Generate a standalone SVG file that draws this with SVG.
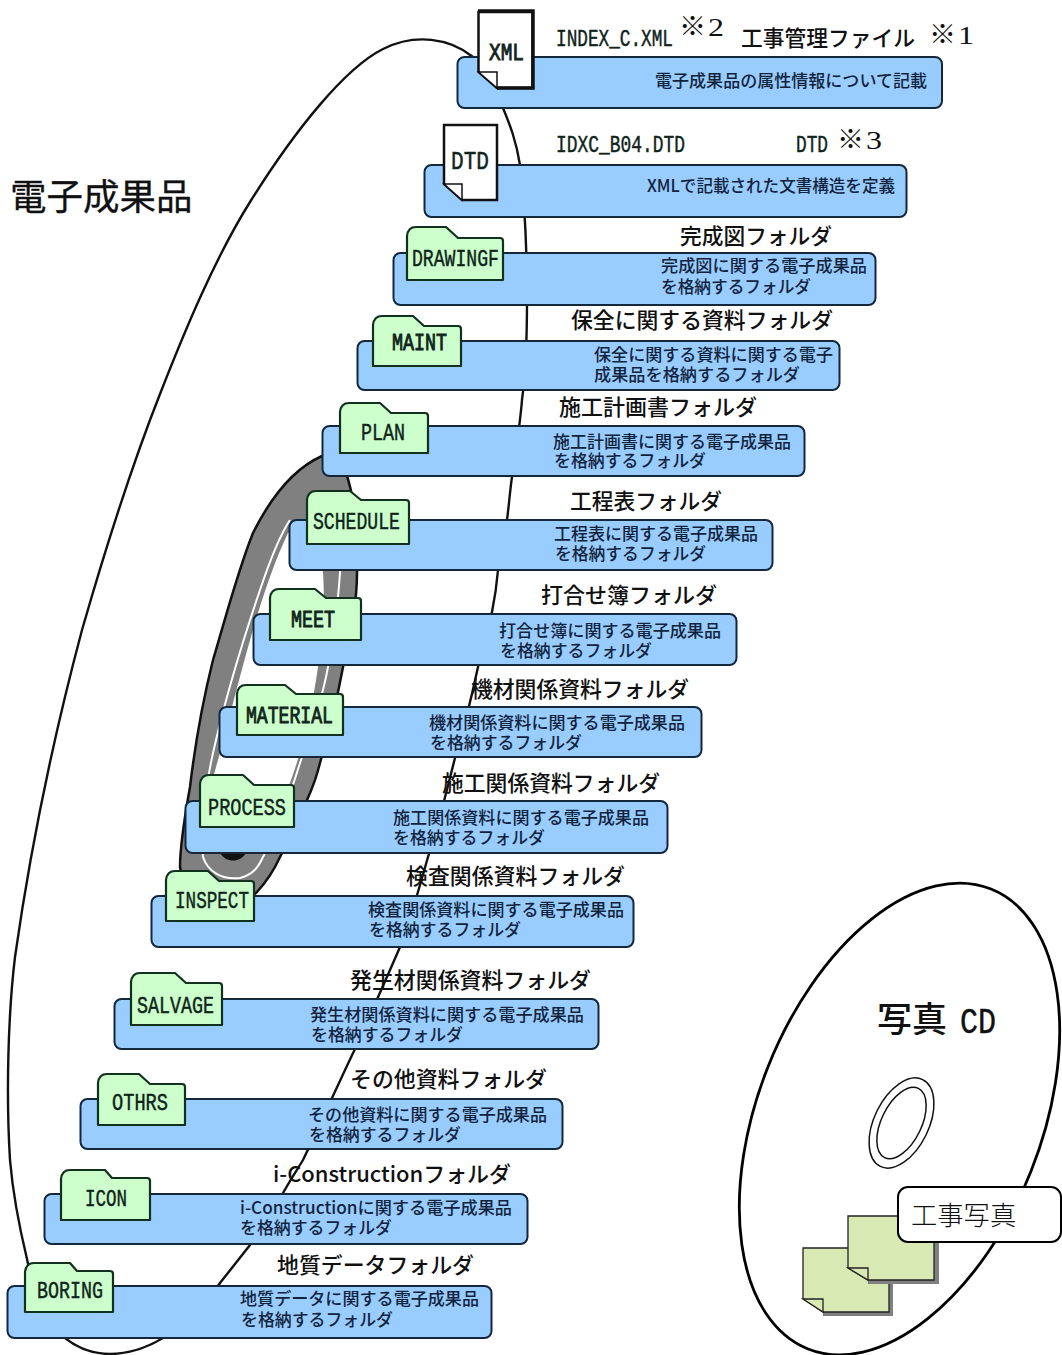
<svg xmlns="http://www.w3.org/2000/svg" width="1062" height="1355" viewBox="0 0 1062 1355">
<style>
text{font-family:"Noto Sans CJK JP","Noto Sans CJK SC",sans-serif;fill:#111}
.bar{fill:#99ccff;stroke:#14283c;stroke-width:2}
.folder{fill:#ccffcc;stroke:#12301e;stroke-width:2.2;stroke-linejoin:round}
.file{fill:#fff;stroke:#111;stroke-width:2.5}
.d{font-size:17px;font-weight:500;fill:#12243c}
.t{font-size:22px;font-weight:500}
.m{font-family:"Liberation Mono","DejaVu Sans Mono",monospace;fill:#10241a;stroke:#10241a;stroke-width:.45}
.b{stroke-width:.9}
.f{font-size:23px}
.s{font-family:"Liberation Serif",serif;font-size:26px}
.c{fill:none;stroke:#111;stroke-width:2.4}
.doc{fill:#d8e9b3;stroke:#222;stroke-width:1.3}
.sh{fill:#808080}
</style>
<rect width="1062" height="1355" fill="#fff"/>
<g id="connectors">
<path class="c" d="M473,57 C450,38 415,33 383,49 C345,68 295,130 250,202 C215,258 185,330 160,394 C130,470 105,550 82,630 C58,720 33,830 15,957 C8,1015 6,1095 10,1160 C13,1195 20,1230 27,1259 C35,1300 50,1330 65,1338 C80,1350 95,1354 110,1354 C130,1354 148,1347 163,1338 C190,1320 205,1305 220,1283 L250,1245 C262,1225 272,1212 283,1193 C292,1177 297,1170 303,1160 C320,1125 340,1080 355,1049 C370,1015 388,975 400,947 C412,915 420,885 428,857 C440,820 448,785 455,758 C465,725 472,695 478,667 C484,645 489,628 492,612 C495,597 497,582 498,570 C501,553 504,537 507,520 C509,505 510,490 512,477 C516,450 520,425 522,400 C526,370 527,340 527,300 C527,255 525,205 520,165 C516,140 510,125 503,108"/>
</g>
<g id="inner-disc">
<path fill="#808080" stroke="#111" stroke-width="2.5" d="M322,456 C295,468 272,495 253,533 C238,570 225,620 213,660 C203,700 195,745 190,787 C185,815 180,845 180,867 C183,895 235,912 257,892 C268,880 275,868 280,857 C290,838 298,820 307,800 C313,787 317,775 320,763 C328,735 337,700 343,667 C350,635 357,605 357,573 C358,540 356,500 345,470 Z"/>
<path fill="#fff" d="M288,533 C275,560 262,598 252,633 C240,675 230,715 220,753 C212,780 206,805 203,830 L265,830 C275,815 283,798 290,783 C302,750 312,710 318,667 C323,635 325,600 323,573 C322,560 320,545 318,533 Z"/>
<path fill="none" stroke="#fff" stroke-width="2" d="M290,520 C280,535 270,560 260,590 C243,640 226,695 213,753 C205,790 200,825 203,857 C208,872 222,880 240,878 C252,875 258,868 263,857 C275,835 290,795 300,763 C312,730 322,700 328,667 C334,640 338,600 340,573 L340,530"/>
<path fill="#111" d="M220,853 H246 C240,863 226,863 220,853 Z"/>
</g>
<g id="index-xml">
<rect class="bar" x="457.500" y="57" width="484.500" height="51" rx="7"/>
<path class="file" d="M478.500,12 H532.500 V88 H497 L478.500,72 Z"/>
<path fill="none" stroke="#111" stroke-width="3.500" d="M478,11 H533 V88 H497"/>
<path fill="#fff" stroke="#111" stroke-width="1.500" d="M478.500,72 H497 V88 Z"/>
<text class="m b" x="489" y="60" font-size="24" textLength="35" lengthAdjust="spacingAndGlyphs">XML</text>
<text class="m" x="556" y="46" font-size="23" textLength="117" lengthAdjust="spacingAndGlyphs">INDEX_C.XML</text>
<text x="679" y="36" font-size="27">※<tspan class="s" dx="2" textLength="16" lengthAdjust="spacingAndGlyphs">2</tspan></text>
<text class="t" x="741" y="46" textLength="174" lengthAdjust="spacingAndGlyphs">工事管理ファイル</text>
<text x="929" y="44" font-size="27">※<tspan class="s" dx="2" textLength="16" lengthAdjust="spacingAndGlyphs">1</tspan></text>
<text class="d" x="655" y="87" textLength="272" lengthAdjust="spacingAndGlyphs">電子成果品の属性情報について記載</text>
</g>
<g id="idxc-dtd">
<rect class="bar" x="424.500" y="165" width="482" height="52" rx="7"/>
<path class="file" d="M444,125 H497 V200 H462 L444,184 Z"/>
<path fill="#fff" stroke="#111" stroke-width="1.500" d="M444,184 H462 V200 Z"/>
<text class="m" x="451" y="169" font-size="25" textLength="38" lengthAdjust="spacingAndGlyphs">DTD</text>
<text class="m" x="556" y="152" font-size="23" textLength="129" lengthAdjust="spacingAndGlyphs">IDXC_B04.DTD</text>
<text class="m" x="796" y="152" font-size="23" textLength="32" lengthAdjust="spacingAndGlyphs">DTD</text>
<text x="837" y="149" font-size="27">※<tspan class="s" dx="2" textLength="16" lengthAdjust="spacingAndGlyphs">3</tspan></text>
<text class="d" x="647" y="192" textLength="248" lengthAdjust="spacingAndGlyphs">XMLで記載された文書構造を定義</text>
</g>
<g id="drawingf">
<rect class="bar" x="393.500" y="253" width="482" height="52" rx="7"/>
<path class="folder" d="M407,280 V236 Q408,227 416,227 H446 L458,238 H500 Q503,238 503,241 V280 Z"/>
<text class="m f" x="412" y="266" textLength="87" lengthAdjust="spacingAndGlyphs">DRAWINGF</text>
<text class="t" x="680" y="244" textLength="152" lengthAdjust="spacingAndGlyphs">完成図フォルダ</text>
<text class="d"><tspan x="661" y="272" textLength="206" lengthAdjust="spacingAndGlyphs">完成図に関する電子成果品</tspan><tspan x="661" y="293" textLength="150" lengthAdjust="spacingAndGlyphs">を格納するフォルダ</tspan></text>
</g>
<g id="maint">
<rect class="bar" x="357.500" y="341" width="482" height="49" rx="7"/>
<path class="folder" d="M373,366 V325 Q374,316 382,316 H413 L424,326 H458 Q461,326 461,329 V366 Z"/>
<text class="m b f" x="392" y="350" textLength="55" lengthAdjust="spacingAndGlyphs">MAINT</text>
<text class="t" x="571" y="328" textLength="262" lengthAdjust="spacingAndGlyphs">保全に関する資料フォルダ</text>
<text class="d"><tspan x="594" y="361" textLength="239" lengthAdjust="spacingAndGlyphs">保全に関する資料に関する電子</tspan><tspan x="594" y="381" textLength="206" lengthAdjust="spacingAndGlyphs">成果品を格納するフォルダ</tspan></text>
</g>
<g id="plan">
<rect class="bar" x="322.500" y="426" width="482" height="50" rx="7"/>
<path class="folder" d="M340,453 V412 Q341,403 349,403 H380 L391,413 H425 Q428,413 428,416 V453 Z"/>
<text class="m f" x="361" y="440" textLength="44" lengthAdjust="spacingAndGlyphs">PLAN</text>
<text class="t" x="559" y="415" textLength="198" lengthAdjust="spacingAndGlyphs">施工計画書フォルダ</text>
<text class="d"><tspan x="553" y="448" textLength="238" lengthAdjust="spacingAndGlyphs">施工計画書に関する電子成果品</tspan><tspan x="554" y="467" textLength="152" lengthAdjust="spacingAndGlyphs">を格納するフォルダ</tspan></text>
</g>
<g id="schedule">
<rect class="bar" x="289.500" y="520" width="483" height="50" rx="7"/>
<path class="folder" d="M307,544 V500 Q308,491 316,491 H350 L361,500 H406 Q409,500 409,503 V544 Z"/>
<text class="m f" x="313" y="529" textLength="87" lengthAdjust="spacingAndGlyphs">SCHEDULE</text>
<text class="t" x="570" y="509" textLength="152" lengthAdjust="spacingAndGlyphs">工程表フォルダ</text>
<text class="d"><tspan x="554" y="540" textLength="204" lengthAdjust="spacingAndGlyphs">工程表に関する電子成果品</tspan><tspan x="555" y="560" textLength="151" lengthAdjust="spacingAndGlyphs">を格納するフォルダ</tspan></text>
</g>
<g id="meet">
<rect class="bar" x="253.500" y="614" width="483" height="51" rx="7"/>
<path class="folder" d="M270,640 V598 Q271,589 279,589 H315 L326,598 H358 Q361,598 361,601 V640 Z"/>
<text class="m b f" x="291" y="627" textLength="44" lengthAdjust="spacingAndGlyphs">MEET</text>
<text class="t" x="541" y="603" textLength="176" lengthAdjust="spacingAndGlyphs">打合せ簿フォルダ</text>
<text class="d"><tspan x="499" y="637" textLength="222" lengthAdjust="spacingAndGlyphs">打合せ簿に関する電子成果品</tspan><tspan x="500" y="657" textLength="152" lengthAdjust="spacingAndGlyphs">を格納するフォルダ</tspan></text>
</g>
<g id="material">
<rect class="bar" x="219.500" y="707" width="482" height="50" rx="7"/>
<path class="folder" d="M237,735 V694 Q238,685 246,685 H285 L296,694 H340 Q343,694 343,697 V735 Z"/>
<text class="m b f" x="246" y="723" textLength="87" lengthAdjust="spacingAndGlyphs">MATERIAL</text>
<text class="t" x="471" y="697" textLength="218" lengthAdjust="spacingAndGlyphs">機材関係資料フォルダ</text>
<text class="d"><tspan x="429" y="729" textLength="256" lengthAdjust="spacingAndGlyphs">機材関係資料に関する電子成果品</tspan><tspan x="430" y="749" textLength="152" lengthAdjust="spacingAndGlyphs">を格納するフォルダ</tspan></text>
</g>
<g id="process">
<rect class="bar" x="185.500" y="801" width="482" height="52" rx="7"/>
<path class="folder" d="M200,827 V784 Q201,775 209,775 H243 L254,785 H291 Q294,785 294,788 V827 Z"/>
<text class="m f" x="208" y="815" textLength="78" lengthAdjust="spacingAndGlyphs">PROCESS</text>
<text class="t" x="442" y="791" textLength="218" lengthAdjust="spacingAndGlyphs">施工関係資料フォルダ</text>
<text class="d"><tspan x="393" y="824" textLength="256" lengthAdjust="spacingAndGlyphs">施工関係資料に関する電子成果品</tspan><tspan x="393" y="844" textLength="152" lengthAdjust="spacingAndGlyphs">を格納するフォルダ</tspan></text>
</g>
<g id="inspect">
<rect class="bar" x="151.500" y="896" width="482" height="51" rx="7"/>
<path class="folder" d="M166,921 V880 Q167,871 175,871 H208 L219,881 H251 Q254,881 254,884 V921 Z"/>
<text class="m f" x="175" y="908" textLength="74" lengthAdjust="spacingAndGlyphs">INSPECT</text>
<text class="t" x="406" y="884" textLength="219" lengthAdjust="spacingAndGlyphs">検査関係資料フォルダ</text>
<text class="d"><tspan x="368" y="916" textLength="256" lengthAdjust="spacingAndGlyphs">検査関係資料に関する電子成果品</tspan><tspan x="369" y="936" textLength="152" lengthAdjust="spacingAndGlyphs">を格納するフォルダ</tspan></text>
</g>
<g id="salvage">
<rect class="bar" x="114.500" y="999" width="484" height="50" rx="7"/>
<path class="folder" d="M131,1025 V982 Q132,973 140,973 H175 L186,983 H219 Q222,983 222,986 V1025 Z"/>
<text class="m f" x="137" y="1013" textLength="77" lengthAdjust="spacingAndGlyphs">SALVAGE</text>
<text class="t" x="350" y="988" textLength="241" lengthAdjust="spacingAndGlyphs">発生材関係資料フォルダ</text>
<text class="d"><tspan x="310" y="1021" textLength="274" lengthAdjust="spacingAndGlyphs">発生材関係資料に関する電子成果品</tspan><tspan x="311" y="1041" textLength="152" lengthAdjust="spacingAndGlyphs">を格納するフォルダ</tspan></text>
</g>
<g id="othrs">
<rect class="bar" x="80.500" y="1099" width="482" height="50" rx="7"/>
<path class="folder" d="M98,1125 V1083 Q99,1074 107,1074 H139 L150,1084 H182 Q185,1084 185,1087 V1125 Z"/>
<text class="m f" x="112" y="1110" textLength="56" lengthAdjust="spacingAndGlyphs">OTHRS</text>
<text class="t" x="350" y="1087" textLength="197" lengthAdjust="spacingAndGlyphs">その他資料フォルダ</text>
<text class="d"><tspan x="308" y="1121" textLength="239" lengthAdjust="spacingAndGlyphs">その他資料に関する電子成果品</tspan><tspan x="309" y="1141" textLength="152" lengthAdjust="spacingAndGlyphs">を格納するフォルダ</tspan></text>
</g>
<g id="icon">
<rect class="bar" x="44.500" y="1194" width="483" height="50" rx="7"/>
<path class="folder" d="M61,1220 V1179 Q62,1170 70,1170 H105 L112,1178 H147 Q150,1178 150,1181 V1220 Z"/>
<text class="m f" x="85" y="1206" textLength="42" lengthAdjust="spacingAndGlyphs">ICON</text>
<text class="t" x="273" y="1182" textLength="238" lengthAdjust="spacingAndGlyphs">i-Constructionフォルダ</text>
<text class="d"><tspan x="240" y="1214" textLength="272" lengthAdjust="spacingAndGlyphs">i-Constructionに関する電子成果品</tspan><tspan x="240" y="1234" textLength="152" lengthAdjust="spacingAndGlyphs">を格納するフォルダ</tspan></text>
</g>
<g id="boring">
<rect class="bar" x="7.500" y="1286" width="484" height="52" rx="7"/>
<path class="folder" d="M25,1312 V1272 Q26,1263 34,1263 H70 L77,1271 H110 Q113,1271 113,1274 V1312 Z"/>
<text class="m f" x="37" y="1298" textLength="66" lengthAdjust="spacingAndGlyphs">BORING</text>
<text class="t" x="277" y="1273" textLength="197" lengthAdjust="spacingAndGlyphs">地質データフォルダ</text>
<text class="d"><tspan x="240" y="1305" textLength="239" lengthAdjust="spacingAndGlyphs">地質データに関する電子成果品</tspan><tspan x="241" y="1326" textLength="152" lengthAdjust="spacingAndGlyphs">を格納するフォルダ</tspan></text>
</g>
<g id="title">
<text x="10" y="210" font-size="36.500" font-weight="400" stroke="#111" stroke-width=".3">電子成果品</text>
</g>
<g id="photo-cd">
<ellipse cx="899.500" cy="1119" rx="141.500" ry="247.500" transform="rotate(21.700 899.500 1119)" fill="#fff" stroke="#000" stroke-width="2.800"/>
<ellipse cx="901.500" cy="1123" rx="27.300" ry="48.300" transform="rotate(26 901.500 1123)" fill="#fff" stroke="#111" stroke-width="1.500"/>
<ellipse cx="901.500" cy="1123" rx="20" ry="38.500" transform="rotate(26 901.500 1123)" fill="#fff" stroke="#111" stroke-width="1.500"/>
<text x="877" y="1032" font-size="35" font-weight="500">写真</text>
<text class="m" x="960" y="1033" font-size="36" textLength="36" lengthAdjust="spacingAndGlyphs" style="fill:#111;stroke:#111">CD</text>
<path class="sh" d="M823,1316 H893 V1252 H889 V1312 H823 Z"/>
<path class="doc" d="M803,1248 H889 V1312 H823 L803,1299 Z"/>
<path class="doc" d="M803,1299 H823 V1312 Z"/>
<path class="sh" d="M868,1284 H939 V1220 H934 V1280 H868 Z"/>
<path class="doc" d="M848,1216 H934 V1280 H868 L848,1268 Z"/>
<path class="doc" d="M848,1268 H868 V1280 Z"/>
<rect x="898" y="1187" width="163" height="55" rx="10" fill="#fff" stroke="#000" stroke-width="2"/>
<text x="911" y="1225" font-size="26.300" font-weight="300" fill="#222">工事写真</text>
</g>
</svg>
